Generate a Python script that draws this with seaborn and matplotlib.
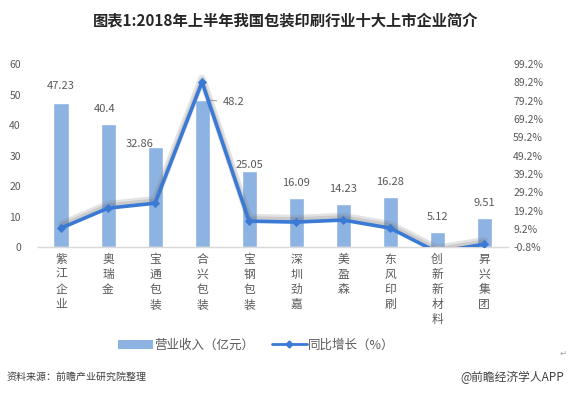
import numpy as np
import pandas as pd
import matplotlib
matplotlib.use("Agg")
import matplotlib.pyplot as plt
import matplotlib.patheffects as pe
from matplotlib.lines import Line2D
from matplotlib.patches import Patch
import seaborn as sns

# ============================
# Data
# ============================
companies = ["紫江企业", "奥瑞金", "宝通包装", "合兴包装", "宝钢包装",
             "深圳劲嘉", "美盈森", "东风印刷", "创新新材料", "昇兴集团"]
revenue = [47.23, 40.4, 32.86, 48.2, 25.05, 16.09, 14.23, 16.28, 5.12, 9.51]
growth = [9.6, 20.5, 23.2, 89.4, 13.4, 12.9, 14.0, 9.6, -3.5, 0.8]
revenue_labels = ["47.23", "40.4", "32.86", "48.2", "25.05", "16.09", "14.23", "16.28", "5.12", "9.51"]

BAR_COLOR = "#8DB3E2"
LINE_COLOR = "#3A7AD4"
TEXT_COLOR = "#595959"

sns.set_style("white")
plt.rcParams["font.family"] = ["Noto Sans CJK SC", "DejaVu Sans"]

df = pd.DataFrame({"company": companies, "revenue": revenue, "growth": growth})
df["pos"] = np.arange(len(companies))

fig = plt.figure(figsize=(5.71, 3.98), dpi=100)
ax = fig.add_axes([0.0657, 0.379, 0.8233, 0.460])

sns.barplot(data=df, x="company", y="revenue", color=BAR_COLOR, width=0.32,
            saturation=1, ax=ax)
ax.set_ylim(0, 60)
ax.set_yticks(range(0, 61, 10))
ax.set_xlim(-0.5, len(companies) - 0.5)
ax.set_xlabel("")
ax.set_ylabel("")

# vertical stacked x labels
ax.set_xticks(range(len(companies)))
ax.set_xticklabels(["\n".join(c) for c in companies], rotation=0,
                   va="top", linespacing=1.2)
ax.tick_params(axis="x", length=0, pad=4, labelsize=8.5, labelcolor=TEXT_COLOR)
ax.tick_params(axis="y", length=0, pad=12, labelsize=7.5, labelcolor=TEXT_COLOR)
for s in ["top", "right", "left"]:
    ax.spines[s].set_visible(False)
ax.spines["bottom"].set_color("#D9D9D9")
ax.spines["bottom"].set_linewidth(1.0)

# data labels (pixel offsets tuned per bar)
offsets = {0: (0, 12), 1: (-3, 10), 2: (-15, -2), 4: (0, 1)}
for i, (v, lab) in enumerate(zip(revenue, revenue_labels)):
    if i == 3:
        ax.annotate(lab, xy=(i + 0.1, v), xytext=(16, -2), textcoords="offset pixels",
                    ha="left", va="center", fontsize=8, color=TEXT_COLOR,
                    arrowprops=dict(arrowstyle="-", color="#A6A6A6", lw=0.8,
                                    shrinkA=2, shrinkB=0))
        continue
    dx, dy = offsets.get(i, (0, 10))
    ax.annotate(lab, xy=(i, v), xytext=(dx, dy), textcoords="offset pixels",
                ha="center", va="bottom", fontsize=8, color=TEXT_COLOR)

# growth line on right axis (soft shadow + line, then markers)
ax2 = ax.twinx()
sns.lineplot(data=df, x="pos", y="growth", ax=ax2, color=LINE_COLOR,
             linewidth=2.6,
             path_effects=[pe.SimpleLineShadow(offset=(0, 2.5), shadow_color="#808080",
                                               alpha=0.22, linewidth=5.5),
                           pe.SimpleLineShadow(offset=(0, 2.0), shadow_color="#606060",
                                               alpha=0.18, linewidth=3.0),
                           pe.Normal()])
sns.scatterplot(data=df, x="pos", y="growth", ax=ax2, color=LINE_COLOR,
                marker="D", s=22, linewidth=0, zorder=5)
ax2.set_ylim(-0.8, 99.2)
ax2.set_yticks(np.arange(-0.8, 99.3, 10))
ax2.set_yticklabels([f"{t:.1f}%" for t in np.arange(-0.8, 99.3, 10)])
ax2.set_ylabel("")
ax2.set_xlabel("")
ax2.tick_params(axis="y", length=0, pad=4, labelsize=7.5, labelcolor=TEXT_COLOR)
for s in ["top", "right", "left", "bottom"]:
    ax2.spines[s].set_visible(False)

# title
fig.text(0.5, 0.945, "图表1:2018年上半年我国包装印刷行业十大上市企业简介",
         ha="center", va="center", fontsize=11, fontweight="bold", color="#262626")

# legend
handles = [Patch(facecolor=BAR_COLOR, edgecolor="none"),
           Line2D([0], [0], color=LINE_COLOR, lw=2, marker="D", markersize=3.5)]
fig.legend(handles, ["营业收入（亿元）", "同比增长（%）"], loc="center",
           bbox_to_anchor=(0.449, 0.133), ncol=2, frameon=False, fontsize=9,
           handlelength=2.8, handleheight=0.7, columnspacing=1.4, handletextpad=0.1,
           labelcolor=TEXT_COLOR)

# footer
fig.text(0.012, 0.052, "资料来源：前瞻产业研究院整理", ha="left", va="center",
         fontsize=7.2, style="italic", color="#404040")
fig.text(0.988, 0.052, "@前瞻经济学人APP", ha="right", va="center",
         fontsize=8.5, color="#404040")
fig.text(0.986, 0.112, "↵", ha="center", va="center", fontsize=6,
         color="#A0A0A0", family=["DejaVu Sans"])

fig.savefig("out.png", dpi=100, facecolor="white")
